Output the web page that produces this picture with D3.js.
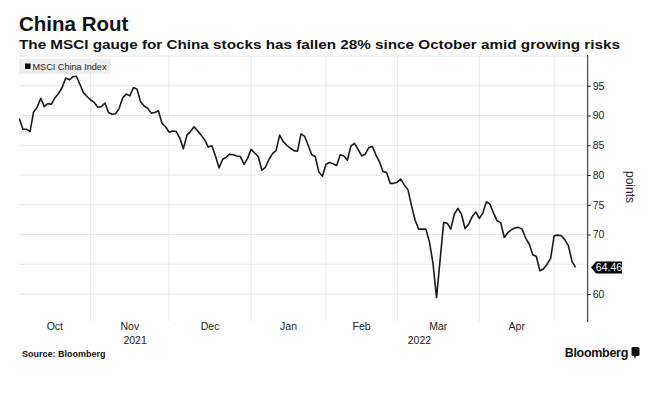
<!DOCTYPE html>
<html><head><meta charset="utf-8">
<script src="https://cdn.jsdelivr.net/npm/d3@7"></script>
<style>
body{margin:0;background:#fff}
svg{display:block}
text{font-family:"Liberation Sans",Arial,sans-serif}
</style>
</head><body>
<svg id="c" width="663" height="397"></svg>
<script>
// ---------- data ----------
const title = "China Rout";
const subtitle = "The MSCI gauge for China stocks has fallen 28% since October amid growing risks";
const seriesName = "MSCI China Index";
const sourceText = "Source: Bloomberg";
const brandText = "Bloomberg";
const axisTitle = "points";
// one value per trading day (weekdays) starting 2021-10-04
const firstDate = "2021-10-04";
const values = [
89.5,87.7,87.7,87.3,90.6,91.4,92.9,91.5,92.0,91.9,
93.0,93.7,94.7,96.3,96.0,96.5,96.6,95.2,93.8,93.2,
92.6,92.2,91.4,91.5,92.1,90.5,90.2,90.3,91.2,93.0,
93.6,93.3,94.7,94.4,92.3,91.6,91.2,90.4,90.5,90.8,
88.7,88.1,87.2,87.4,87.3,86.2,84.4,86.7,87.3,88.1,
87.4,86.7,85.9,84.7,84.9,83.2,81.2,82.6,83.0,83.5,
83.4,83.2,83.1,81.8,82.8,84.3,83.7,83.1,80.8,81.3,
82.6,83.6,84.1,86.7,85.6,85.0,84.5,84.1,84.0,86.9,
86.5,85.0,83.4,83.1,80.5,79.8,81.8,82.1,81.9,81.6,
83.4,83.2,82.5,84.9,85.3,84.3,83.2,83.5,84.6,84.8,
83.4,82.2,80.6,80.4,78.6,78.6,78.8,79.3,78.3,77.5,
74.8,72.4,70.9,70.9,70.9,68.8,65.2,59.4,65.7,72.0,
71.9,70.9,73.4,74.4,73.4,71.0,71.7,73.0,73.8,72.7,
73.6,75.5,75.1,73.6,72.3,72.0,69.5,70.3,70.8,71.1,
71.2,70.9,69.4,68.4,66.6,66.3,63.9,64.2,65.0,66.0,
69.8,69.9,69.8,69.1,68.1,65.5,64.46
];
const lastValueLabel = "64.46";
const yTicks = [60,70,75,80,85,90,95];
const yGrid = [60,65,70,75,80,85,90,95,100];
const yDomain = [56,100];
const monthLabels = ["Oct","Nov","Dec","Jan","Feb","Mar","Apr"];
const monthStarts = ["2021-10-01","2021-11-01","2021-12-01","2022-01-01","2022-02-01","2022-03-01","2022-04-01","2022-05-01"];
const yearLabels = ["2021","2022"];
const yearStarts = ["2021-10-01","2022-01-01","2022-05-20"];

// ---------- trading-day calendar ----------
const parse = d3.timeParse("%Y-%m-%d");
const calStart = parse("2021-10-01");
const calEnd = parse("2022-05-31");
const tradingDays = d3.timeDay.range(calStart, calEnd).filter(d => d.getDay() !== 0 && d.getDay() !== 6);
const dayIndex = d => tradingDays.findIndex(t => t >= d);
const startIdx = dayIndex(parse(firstDate));
const data = values.map((v, i) => ({date: tradingDays[startIdx + i], idx: startIdx + i, value: v}));

// ---------- layout ----------
const svg = d3.select("#c");
const pL = 19, pR = 587.7, pT = 56, pB = 317.8;
const x = d3.scaleLinear().domain([0.9, 160.4]).range([pL, pR]);
const y = d3.scaleLinear().domain(yDomain).range([pB, pT]);

// title
svg.append("text").attr("x", 19).attr("y", 31).attr("font-size", 20.5).attr("font-weight", "bold")
  .attr("fill", "#111").text(title);
svg.append("text").attr("x", 19).attr("y", 48.5).attr("font-size", 13.4).attr("font-weight", "bold")
  .attr("fill", "#111").attr("textLength", 601).attr("lengthAdjust", "spacingAndGlyphs").text(subtitle);

// grid
const g = svg.append("g");
g.selectAll(".hg").data(yGrid).enter().append("line")
  .attr("x1", pL).attr("x2", pR).attr("y1", d => y(d)).attr("y2", d => y(d))
  .attr("stroke", "#e8e8e8").attr("stroke-width", 1);
const monthIdx = monthStarts.map(s => dayIndex(parse(s)));
g.selectAll(".vg").data(monthIdx.slice(1)).enter().append("line")
  .attr("x1", d => x(d)).attr("x2", d => x(d)).attr("y1", pT).attr("y2", 321)
  .attr("stroke", "#e6e6e6").attr("stroke-width", 1);

// legend
svg.append("rect").attr("x", 19).attr("y", 59).attr("width", 92).attr("height", 15).attr("fill", "#ededed");
svg.append("rect").attr("x", 25).attr("y", 63.5).attr("width", 5.5).attr("height", 5.5).attr("fill", "#000");
svg.append("text").attr("x", 32.5).attr("y", 69.8).attr("font-size", 9).attr("fill", "#222")
  .attr("textLength", 74).attr("lengthAdjust", "spacingAndGlyphs").text(seriesName);

// line
const line = d3.line().x(d => x(d.idx)).y(d => y(d.value));
svg.append("path").datum(data).attr("d", line).attr("fill", "none")
  .attr("stroke", "#1b1b1b").attr("stroke-width", 1.6).attr("stroke-linejoin", "round");

// right axis
const axis = d3.axisRight(y).tickValues(yTicks).tickSize(3).tickPadding(2).tickFormat(d3.format("d"));
const ax = svg.append("g").attr("transform", `translate(${pR},0)`).call(axis);
ax.select(".domain").remove();
ax.selectAll("text").attr("font-size", 10.5).attr("fill", "#222").attr("font-family", "Liberation Sans, Arial, sans-serif");
ax.selectAll("line").attr("stroke", "#222");
svg.append("line").attr("x1", pR).attr("x2", pR).attr("y1", pT - 1).attr("y2", 322)
  .attr("stroke", "#222").attr("stroke-width", 1);

// axis title
svg.append("text").attr("transform", `translate(626,187) rotate(90)`).attr("text-anchor", "middle")
  .attr("font-size", 12).attr("fill", "#222").text(axisTitle);

// last value tag
const last = data[data.length - 1];
const ly = y(last.value);
svg.append("path").attr("d", `M591,${ly} L596,${ly-6} L622,${ly-6} L622,${ly+6} L596,${ly+6} Z`).attr("fill", "#000");
svg.append("text").attr("x", 609).attr("y", ly + 3.8).attr("text-anchor", "middle").attr("font-size", 10.5)
  .attr("fill", "#fff").text(lastValueLabel);

// month labels
const monthCenters = monthLabels.map((m, i) => (Math.max(monthIdx[i], 0.9) + monthIdx[i + 1]) / 2);
svg.selectAll(".ml").data(monthLabels).enter().append("text")
  .attr("x", (d, i) => x(monthCenters[i])).attr("y", 330).attr("text-anchor", "middle")
  .attr("font-size", 10.5).attr("fill", "#222").text(d => d);
// year labels
const yearIdx = yearStarts.map(s => dayIndex(parse(s)));
svg.selectAll(".yl").data(yearLabels).enter().append("text")
  .attr("x", (d, i) => (Math.max(x(yearIdx[i]), pL) + Math.min(x(yearIdx[i + 1]), pR)) / 2)
  .attr("y", 344).attr("text-anchor", "middle").attr("font-size", 10.5).attr("fill", "#222").text(d => d);

// footer
svg.append("text").attr("x", 22).attr("y", 356.5).attr("font-size", 9).attr("font-weight", "bold")
  .attr("fill", "#111").text(sourceText);
svg.append("text").attr("x", 628).attr("y", 357).attr("text-anchor", "end").attr("font-size", 12.5)
  .attr("font-weight", "bold").attr("fill", "#111").attr("letter-spacing", -0.3).text(brandText);
svg.append("rect").attr("x", 631.5).attr("y", 347).attr("width", 8).attr("height", 9).attr("rx", 1.5).attr("fill", "#111");
svg.append("path").attr("d", "M634,356 L636,356 L635,358.5 Z").attr("fill", "#111");
</script>
</body></html>
